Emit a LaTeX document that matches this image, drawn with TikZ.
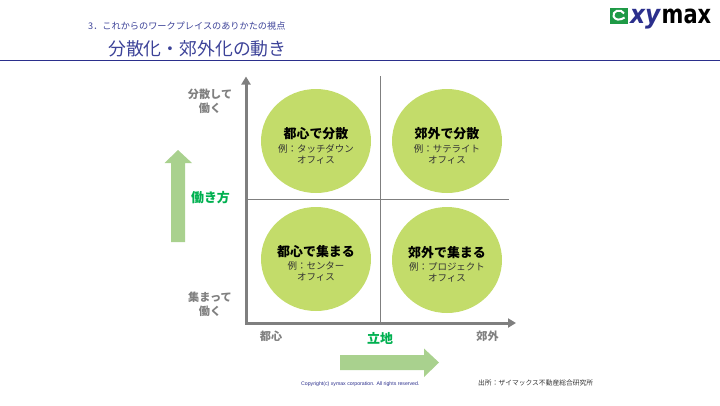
\documentclass[tikz,border=0pt]{standalone}
\usepackage{fontspec}
\setmainfont{Noto Sans CJK JP}
\newfontfamily\latinfont{Liberation Sans}
\newfontfamily\logofont{DejaVu Sans}
\usetikzlibrary{calc,arrows.meta,shapes.geometric}
\definecolor{navyline}{HTML}{2B2F8C}
\definecolor{titleblue}{HTML}{3C4298}
\definecolor{axisgray}{HTML}{7F7F7F}
\definecolor{labelgray}{HTML}{808080}
\definecolor{circlegreen}{HTML}{C3DC6A}
\definecolor{arrowgreen}{HTML}{A9D18E}
\definecolor{wordgreen}{HTML}{00B050}
\definecolor{logogreen}{HTML}{1E9A46}
\tikzset{
  officecircle/.style={ellipse, fill=circlegreen, minimum width=110bp, minimum height=104bp, inner sep=0pt},
  headlabel/.style={font=\fontsize{13}{14}\selectfont\bfseries, text=black, inner sep=0pt},
  sublabel/.style={font=\fontsize{9.5}{11.5}\selectfont, text=black!80, align=center, inner sep=0pt},
  axislabel/.style={font=\fontsize{11.2}{14.5}\selectfont\bfseries, text=labelgray, align=center, inner sep=0pt},
  greenlabel/.style={font=\fontsize{13}{14}\selectfont\bfseries, text=wordgreen, inner sep=0pt},
  axisline/.style={axisgray, line width=3bp, {Triangle[length=8bp,width=9bp]}-{Triangle[length=8bp,width=9bp]}},
  gridline/.style={axisgray, line width=0.8pt},
  blockarrow/.style={fill=arrowgreen},
}
\begin{document}
\begin{tikzpicture}[x=1bp, y=-1bp]
\useasboundingbox (0,0) rectangle (720,405);
% header
\node[font=\fontsize{9.2}{10}\selectfont, text=titleblue, anchor=west, inner sep=0pt] (section) at (88,26.5) {3．これからのワークプレイスのありかたの視点};
\node[font=\fontsize{17.9}{20}\selectfont, text=titleblue, anchor=west, inner sep=0pt] (title) at (108,48.5) {分散化・郊外化の動き};
\coordinate (ruleL) at (0,60.3); \coordinate (ruleR) at (720,60.3);
\draw[navyline, line width=1pt] (ruleL) -- (ruleR);
% logo
\fill[logogreen] (610,8) rectangle (628,23.5);
\draw[white, line width=2pt] (624,13.5) arc[start angle=20, end angle=300, x radius=5.5, y radius=-4.6] -- ++(3,-1.6);
\node[font=\fontsize{26}{28}\logofont\bfseries\itshape, text=navyline, anchor=base west, inner sep=0pt, xscale=0.9] (logoxy) at (630,23.5) {xy};
\node[font=\fontsize{26}{28}\logofont\bfseries, text=black, anchor=base west, inner sep=0pt, xscale=0.81] (logomax) at (661.5,23.5) {max};
% axes and grid
\coordinate (origin) at (246,323);
\coordinate (ytip) at (246,76.5); \coordinate (xtip) at (516,323);
\coordinate (midtop) at (380.5,76); \coordinate (midbot) at (380.5,323);
\coordinate (midleft) at (246,199); \coordinate (midright) at (509,199);
\draw[gridline] (midtop) -- (midbot);
\draw[gridline] (midleft) -- (midright);
\draw[axisline] (ytip) -- (origin) -- (xtip);
% circles
\node[officecircle] (tl) at (316,141) {};
\node[officecircle] (tr) at (447,141) {};
\node[officecircle] (bl) at (316,259) {};
\node[officecircle, minimum height=106bp] (br) at (447,260) {};
\node[headlabel] (tlhead) at (316,134) {都心で分散};
\node[sublabel] (tlsub) at (316,154.5) {例：タッチダウン\\オフィス};
\node[headlabel] (trhead) at (447,134) {郊外で分散};
\node[sublabel] (trsub) at (447,154.5) {例：サテライト\\オフィス};
\node[headlabel] (blhead) at (316,252) {都心で集まる};
\node[sublabel] (blsub) at (316,271.5) {例：センター\\オフィス};
\node[headlabel] (brhead) at (447,253) {郊外で集まる};
\node[sublabel] (brsub) at (447,272.5) {例：プロジェクト\\オフィス};
% axis labels
\node[axislabel] (ytop) at (210,101.5) {分散して\\働く};
\node[axislabel] (ybot) at (210,304.5) {集まって\\働く};
\node[axislabel] (xleft) at (271,336.5) {都心};
\node[axislabel] (xright) at (487.5,336.5) {郊外};
\node[greenlabel] (yname) at (210.5,198) {働き方};
\node[greenlabel] (xname) at (380,338) {立地};
% green arrows
\fill[blockarrow] (171,242) -- (185,242) -- (185,163) -- (192,163) -- (178,150) -- (164.5,163) -- (171,163) -- cycle;
\fill[blockarrow] (340,355) -- (424,355) -- (424,348.5) -- (439,362.5) -- (424,377) -- (424,370) -- (340,370) -- cycle;
% footer
\node[font=\fontsize{5.2}{6}\latinfont, text=navyline, anchor=west, inner sep=0pt] (copyright) at (301,384) {Copyright(c) xymax corporation. All rights reserved.};
\node[font=\fontsize{6.8}{9}\selectfont, text=black!80, anchor=west, inner sep=0pt] (source) at (478,383) {出所：ザイマックス不動産総合研究所};
\end{tikzpicture}
\end{document}
